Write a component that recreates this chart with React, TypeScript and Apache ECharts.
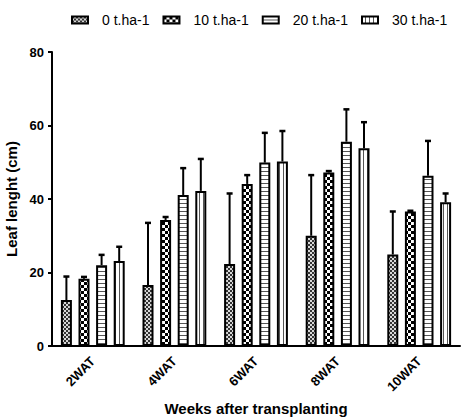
import React, { useEffect, useRef } from "react";
import * as echarts from "echarts";

const categories = ["2WAT", "4WAT", "6WAT", "8WAT", "10WAT"];
const seriesNames = ["0 t.ha-1", "10 t.ha-1", "20 t.ha-1", "30 t.ha-1"];
const means0 = [12.5, 16.6, 22.3, 30.0, 24.9];
const means10 = [18.3, 34.3, 44.1, 47.2, 36.6];
const means20 = [22.0, 41.1, 49.9, 55.6, 46.3];
const means30 = [23.1, 42.2, 50.2, 53.8, 39.1];
const sd0 = [6.4, 16.9, 19.2, 16.5, 11.7];
const sd10 = [0.5, 0.8, 2.4, 0.4, 0.2];
const sd20 = [2.8, 7.3, 8.1, 8.8, 9.5];
const sd30 = [3.9, 8.7, 8.3, 7.1, 2.4];
const yTicks = [0, 20, 40, 60, 80];

const allMeans = [means0, means10, means20, means30];
const allSd = [sd0, sd10, sd20, sd30];

function makePattern(kind: number) {
  const c = document.createElement("canvas");
  const size = kind === 1 ? 6 : 4;
  c.width = size;
  c.height = size;
  const ctx = c.getContext("2d")!;
  ctx.fillStyle = "#ffffff";
  ctx.fillRect(0, 0, size, size);
  if (kind === 0) {
    ctx.fillStyle = "#333333";
    ctx.fillRect(0, 0, 2, 2);
    ctx.fillRect(2, 2, 2, 2);
    ctx.fillStyle = "#d8d8d8";
    ctx.fillRect(2, 0, 2, 2);
    ctx.fillRect(0, 2, 2, 2);
  } else if (kind === 1) {
    ctx.fillStyle = "#000000";
    ctx.fillRect(0, 0, 3, 3);
    ctx.fillRect(3, 3, 3, 3);
  } else if (kind === 2) {
    ctx.fillStyle = "#555555";
    ctx.fillRect(0, 3, size, 1);
  } else {
    ctx.fillStyle = "#555555";
    ctx.fillRect(3, 0, 1, size);
  }
  return { image: c, repeat: "repeat", imageWidth: size, imageHeight: size } as any;
}

const BAR_W = 11;
const GAP_RATIO = 0.6;

export default function App() {
  const ref = useRef<HTMLDivElement>(null);
  useEffect(() => {
    document.body.style.margin = "0";
    const chart = echarts.init(ref.current!, null, { renderer: "svg" });
    const step = BAR_W * (1 + GAP_RATIO);
    const offsets = [-1.5 * step, -0.5 * step, 0.5 * step, 1.5 * step];
    const barSeries = seriesNames.map((name, i) => ({
      name,
      type: "bar",
      barWidth: BAR_W,
      barGap: GAP_RATIO * 100 + "%",
      data: allMeans[i],
      itemStyle: { color: makePattern(i), borderColor: "#000", borderWidth: 2 },
      z: 2,
    }));
    const errSeries = seriesNames.map((name, i) => ({
      name: "err" + i,
      type: "custom",
      z: 3,
      data: categories.map((_, k) => [k, allMeans[i][k], allMeans[i][k] + allSd[i][k]]),
      renderItem: (params: any, api: any) => {
        const k = api.value(0);
        const p0 = api.coord([k, api.value(1)]);
        const p1 = api.coord([k, api.value(2)]);
        const x = p0[0] + offsets[i];
        const style = { stroke: "#000", lineWidth: 2 };
        return {
          type: "group",
          children: [
            { type: "line", shape: { x1: x, y1: p0[1], x2: x, y2: p1[1] }, style },
            { type: "line", shape: { x1: x - 3, y1: p1[1], x2: x + 3, y2: p1[1] }, style: { stroke: "#000", lineWidth: 2.5 } },
          ],
        };
      },
    }));
    chart.setOption({
      animation: false,
      textStyle: { fontFamily: "Liberation Sans, Arial, sans-serif" },
      legend: {
        data: seriesNames.map((n) => ({ name: n, icon: "rect" })),
        left: 66,
        top: 8,
        itemWidth: 16,
        itemHeight: 7,
        itemGap: 13,
        textStyle: { fontSize: 14, color: "#000", padding: [0, 0, 0, 9] },
        selectedMode: false,
      },
      grid: { left: 52, right: 1, top: 52, bottom: 71, containLabel: false, outerBoundsMode: "none" },
      xAxis: {
        type: "category",
        data: categories,
        name: "Weeks after transplanting",
        nameLocation: "middle",
        nameGap: 53,
        nameTextStyle: { fontSize: 15, fontWeight: "bold", color: "#000" },
        axisLine: { lineStyle: { color: "#000", width: 2 } },
        axisTick: { alignWithLabel: true, length: 4, lineStyle: { color: "#000", width: 2 } },
        axisLabel: { rotate: 45, fontSize: 13, fontWeight: "bold", color: "#000", margin: 13 },
      },
      yAxis: {
        type: "value",
        min: yTicks[0],
        max: yTicks[yTicks.length - 1],
        interval: yTicks[1] - yTicks[0],
        name: "Leaf lenght (cm)",
        nameLocation: "middle",
        nameGap: 20,
        nameTextStyle: { fontSize: 15, fontWeight: "bold", color: "#000" },
        axisLine: { show: true, lineStyle: { color: "#000", width: 2 } },
        axisTick: { show: true, length: 4, lineStyle: { color: "#000", width: 2 } },
        axisLabel: { fontSize: 13, fontWeight: "bold", color: "#000", margin: 8 },
        splitLine: { show: false },
      },
      series: [...barSeries, ...errSeries],
    } as any);
    return () => chart.dispose();
  }, []);
  return <div ref={ref} style={{ width: 461, height: 417 }} />;
}
